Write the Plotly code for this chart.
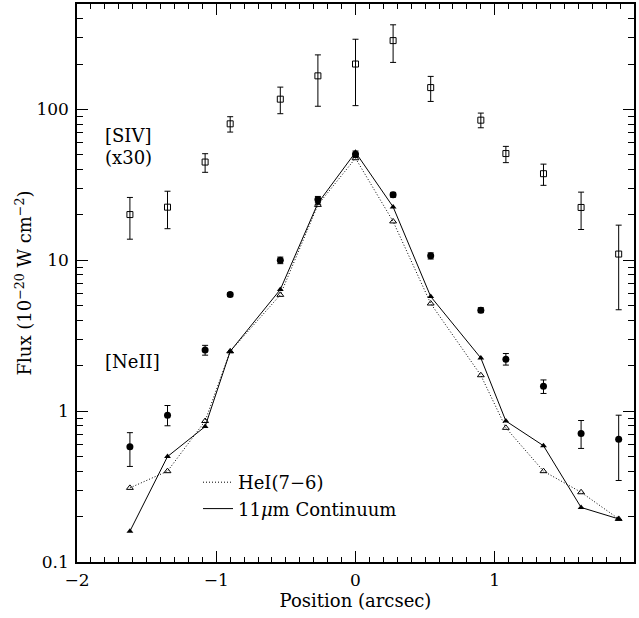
import plotly.graph_objects as go

# Positions (arcsec)
positions = [-1.62, -1.35, -1.08, -0.90, -0.54, -0.27, 0.0, 0.27, 0.54, 0.90, 1.08, 1.35, 1.62, 1.89]

# 11 micron continuum (solid line, filled triangles)
continuum = [0.16, 0.50, 0.79, 2.49, 6.4, 23.9, 52.0, 22.6, 5.75, 2.25, 0.86, 0.59, 0.23, 0.193]

# HeI(7-6) (dotted line, open triangles)
hei = [0.31, 0.40, 0.86, 2.49, 5.9, 23.3, 47.5, 18.1, 5.17, 1.73, 0.775, 0.40, 0.29, 0.193]

# [NeII] (filled circles) with error bar ends
neii = [0.58, 0.94, 2.54, 5.93, 10.0, 25.3, 50.5, 27.2, 10.7, 4.67, 2.21, 1.46, 0.71, 0.65]
neii_hi = [0.72, 1.09, 2.73, 6.1, 10.5, 26.5, 53.0, 28.2, 11.2, 4.85, 2.41, 1.61, 0.867, 0.94]
neii_lo = [0.43, 0.80, 2.35, 5.75, 9.5, 24.1, 48.0, 26.2, 10.2, 4.50, 2.02, 1.31, 0.566, 0.347]

# [SIV] x30 (open squares) with error bar ends
siv = [20.1, 22.5, 44.8, 80.3, 117.0, 167.0, 200.0, 286.0, 139.6, 84.9, 51.0, 37.5, 22.4, 11.0]
siv_hi = [26.1, 28.7, 50.9, 89.5, 140.6, 230.0, 292.0, 364.0, 165.6, 94.6, 56.9, 43.4, 28.3, 17.1]
siv_lo = [13.8, 16.2, 38.3, 70.8, 93.7, 105.0, 106.0, 205.0, 113.0, 75.6, 44.4, 31.4, 16.0, 4.7]

FONT = "DejaVu Serif"
BLACK = "black"
TXT = 18
DOTTED = "1px,2px"

def errs(v, hi, lo):
    return [h - x for x, h in zip(v, hi)], [x - l for x, l in zip(v, lo)]

siv_p, siv_m = errs(siv, siv_hi, siv_lo)
neii_p, neii_m = errs(neii, neii_hi, neii_lo)

fig = go.Figure()

fig.add_trace(go.Scatter(
    x=positions, y=hei, mode="lines+markers",
    line=dict(color=BLACK, width=1, dash=DOTTED),
    marker=dict(symbol="triangle-up-open", size=6, color=BLACK, line=dict(width=1)),
    showlegend=False))

fig.add_trace(go.Scatter(
    x=positions, y=continuum, mode="lines+markers",
    line=dict(color=BLACK, width=1),
    marker=dict(symbol="triangle-up", size=6, color=BLACK),
    showlegend=False))

fig.add_trace(go.Scatter(
    x=positions, y=neii, mode="markers",
    marker=dict(symbol="circle", size=7, color=BLACK),
    error_y=dict(type="data", symmetric=False, array=neii_p, arrayminus=neii_m,
                 color=BLACK, thickness=1, width=3),
    showlegend=False))

fig.add_trace(go.Scatter(
    x=positions, y=siv, mode="markers",
    marker=dict(symbol="square-open", size=6, color=BLACK, line=dict(width=1)),
    error_y=dict(type="data", symmetric=False, array=siv_p, arrayminus=siv_m,
                 color=BLACK, thickness=1, width=3),
    showlegend=False))

# legend-only entries (line samples)
fig.add_trace(go.Scatter(
    x=[None], y=[None], mode="lines", name="HeI(7−6)",
    line=dict(color=BLACK, width=1, dash=DOTTED), legendgroup="a"))
fig.add_trace(go.Scatter(
    x=[None], y=[None], mode="lines", name="11<i>μ</i>m Continuum",
    line=dict(color=BLACK, width=1), legendgroup="b"))

def label(text, px, py):
    fig.add_annotation(text=text, xref="paper", yref="paper",
                       x=(px - 77) / 557, y=(562 - py) / 558, xanchor="left", yanchor="middle",
                       showarrow=False, font=dict(family=FONT, size=TXT, color=BLACK))

label("[SIV]", 103, 135)
label("(x30)", 103, 157)
label("[NeII]", 103, 362)

axis_common = dict(
    showline=True, linecolor=BLACK, linewidth=1.5, mirror="allticks",
    ticks="inside", tickcolor=BLACK, tickwidth=1, ticklen=11,
    showgrid=False, zeroline=False, automargin=False,
    tickfont=dict(family=FONT, size=17, color=BLACK),
)

fig.update_layout(
    width=639, height=618,
    margin=dict(l=77, r=5, t=4, b=56, autoexpand=False),
    paper_bgcolor="white", plot_bgcolor="white",
    font=dict(family=FONT, size=TXT, color=BLACK),
    xaxis=dict(
        range=[-2, 2], dtick=1, tick0=0,
        minor=dict(ticks="inside", ticklen=5, dtick=0.1, tickcolor=BLACK, showgrid=False),
        title=dict(text="Position (arcsec)", font=dict(family=FONT, size=TXT), standoff=2),
        ticklabelstandoff=2,
        **axis_common),
    yaxis=dict(
        type="log", range=[-1, 2.699], dtick=1,
        minor=dict(ticks="inside", ticklen=6, dtick="D1", tickcolor=BLACK, showgrid=False),
        title=dict(text="Flux (10<sup>−20</sup> W cm<sup>−2</sup>)", font=dict(family=FONT, size=TXT), standoff=0),
        ticklabelstandoff=3,
        **axis_common),
    legend=dict(x=(198 - 77) / 557, y=(562 - 464) / 558, xanchor="left", yanchor="top",
                bgcolor="rgba(0,0,0,0)", font=dict(family=FONT, size=TXT, color=BLACK),
                itemwidth=30, tracegroupgap=16, traceorder="normal"),
    showlegend=True,
)

fig.write_html("out.html", config={"displayModeBar": False},
               post_script="document.body.style.margin='0px';")
